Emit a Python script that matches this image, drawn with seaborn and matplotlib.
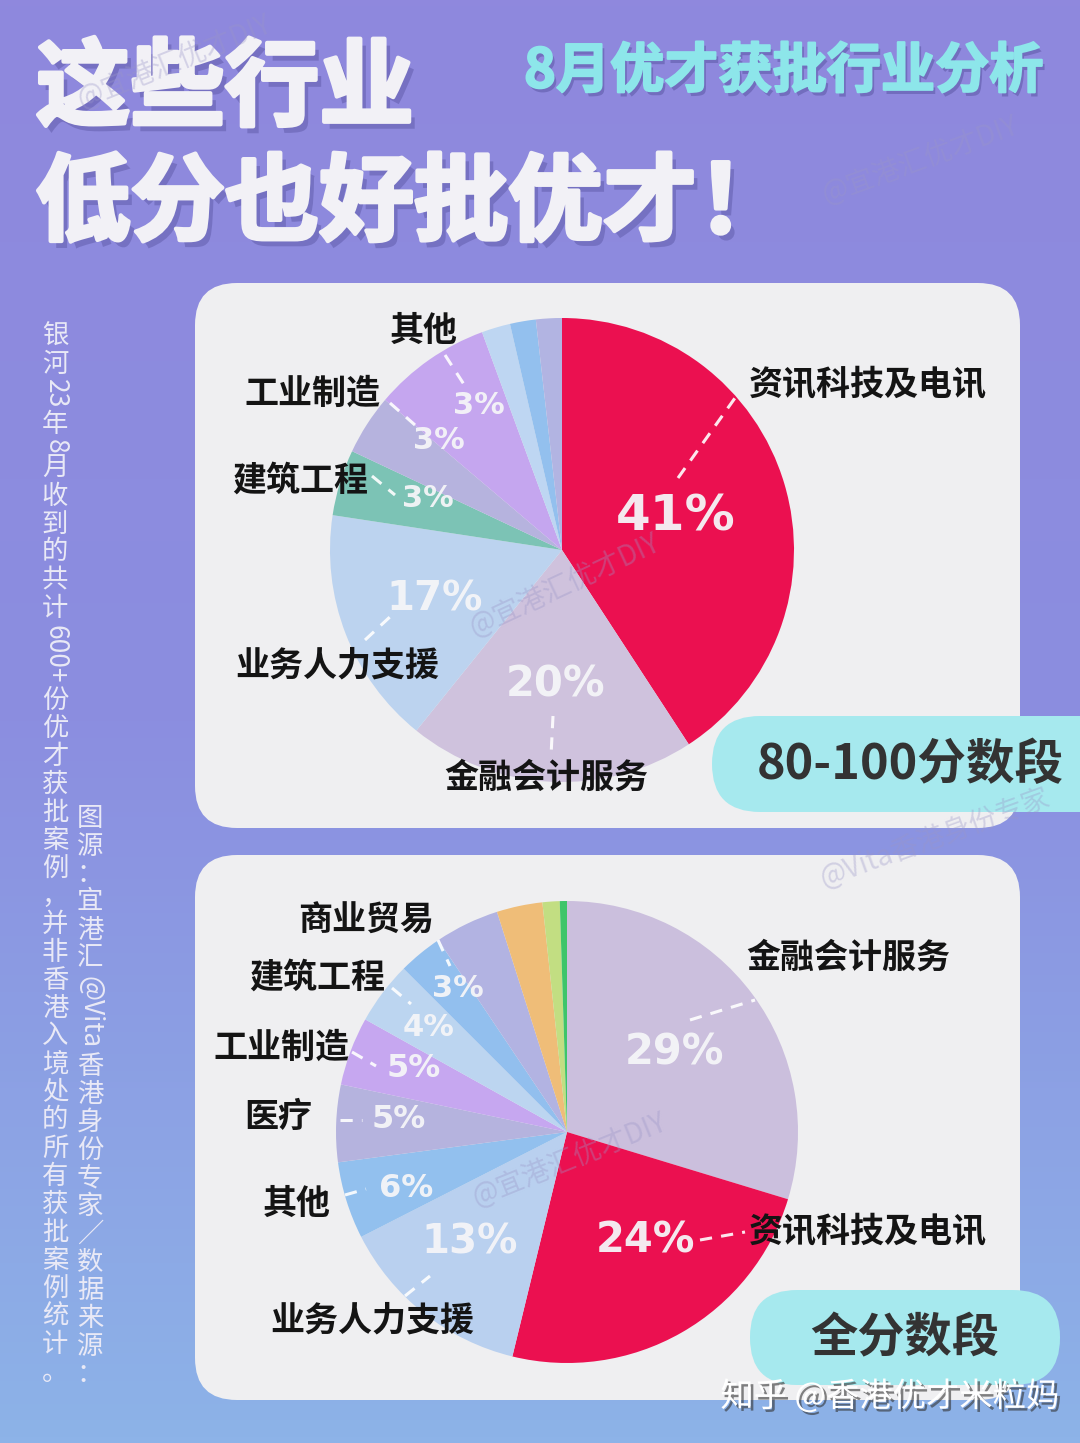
import numpy as np
import matplotlib
matplotlib.use("Agg")
import matplotlib.pyplot as plt
import seaborn as sns
import matplotlib.patheffects as pe
from matplotlib.patches import FancyBboxPatch
from matplotlib.colors import LinearSegmentedColormap

sns.set_theme(style="white")
plt.rcParams['font.family'] = ['Noto Sans CJK SC', 'DejaVu Sans']

# 80-100分数段
top_names = ["资讯科技及电讯", "金融会计服务", "业务人力支援", "建筑工程", "工业制造", "其他", "", "", ""]
top_values = [40.8, 20.0, 16.6, 4.6, 4.2, 8.2, 2.0, 1.8, 1.8]
top_pct = ["41%", "20%", "17%", "3%", "3%", "3%", "", "", ""]
top_colors = ["#eb1050", "#cfc2dd", "#bcd3ef", "#7cc3b5", "#b6b3de",
              "#c5a6ef", "#bed6f2", "#93c0ee", "#b2b4e2"]

# 全分数段
all_names = ["金融会计服务", "资讯科技及电讯", "业务人力支援", "其他", "医疗", "工业制造",
             "建筑工程", "商业贸易", "", "", "", ""]
all_values = [29.7, 24.1, 13.7, 5.4, 5.4, 4.8, 4.4, 3.1, 4.5, 3.2, 1.2, 0.5]
all_pct = ["29%", "24%", "13%", "6%", "5%", "5%", "4%", "3%", "", "", "", ""]
all_colors = ["#cbbfdd", "#eb1050", "#b9d0ef", "#92c0ee", "#b5b3de", "#c6a7f0",
              "#bcd5f0", "#92bfee", "#b2b3e2", "#efbd78", "#c2de82", "#3ec56a"]

# label layout (radius fraction, angle shift, font size) for percent texts
top_pct_r = [0.51, 0.58, 0.59, 0.62, 0.71, 0.72]
top_pct_da = [0, 0, 0, 4, 9, 5]
top_pct_fs = [36, 30, 29, 22, 22, 22]
all_pct_r = [0.58, 0.58, 0.64, 0.74, 0.73, 0.72, 0.75, 0.78]
all_pct_da = [0, -6, 3, -2, 2, 2, 0, 2]
all_pct_fs = [30, 30, 29, 23, 23, 23, 22, 22]

# category label positions (pixels) and leader lines
top_lab_xy = [(868, 385), (546, 777), (337, 665), (300, 480), (312, 393), (424, 330)]
top_lead = [((678, 478), (735, 398)), ((553, 716), (551, 756)), ((365, 640), (392, 615)),
            ((372, 476), (395, 495)), ((390, 403), (415, 425)), ((445, 355), (465, 386))]
all_lab_xy = [(848, 957), (868, 1232), (372, 1320), (297, 1203), (278, 1117),
              (281, 1047), (317, 977), (366, 920)]
all_lead = [((690, 1020), (755, 1000)), ((700, 1240), (745, 1232)), ((405, 1296), (430, 1276)),
            ((345, 1195), (366, 1189)), ((340, 1120), (362, 1120)), ((352, 1052), (376, 1066)),
            ((392, 988), (411, 1004)), ((438, 940), (450, 966))]

W, H = 1080, 1443
fig = plt.figure(figsize=(W / 100, H / 100), dpi=100)

bg = fig.add_axes([0, 0, 1, 1])
bg.set_xlim(0, W)
bg.set_ylim(H, 0)
bg.axis("off")
cmap = LinearSegmentedColormap.from_list("bgc", ["#8f88dd", "#8b8ee0", "#8db3e8"])
bg.imshow(np.linspace(0, 1, 256).reshape(-1, 1), cmap=cmap, aspect="auto",
          extent=[0, W, H, 0], zorder=0)

for y0, y1 in [(283, 828), (855, 1400)]:
    bg.add_patch(FancyBboxPatch((195, y0), 825, y1 - y0,
                                boxstyle="round,pad=0,rounding_size=42",
                                fc="#efeff1", ec="none", zorder=1))

title_c = "#f2f1f6"
title_fx = [pe.SimplePatchShadow(offset=(4, -5), shadow_rgbFace="#4a4590", alpha=0.35),
            pe.Stroke(linewidth=3, foreground=title_c), pe.Normal()]
bg.text(36, 90, "这些行业", fontsize=68, fontweight="bold", color=title_c,
        ha="left", va="center", path_effects=title_fx, zorder=3)
bg.text(36, 205, "低分也好批优才！", fontsize=68, fontweight="bold", color=title_c,
        ha="left", va="center", path_effects=title_fx, zorder=3)
bg.text(524, 72, "8月优才获批行业分析", fontsize=39, fontweight="bold", color="#8de6ea",
        ha="left", va="center", zorder=3,
        path_effects=[pe.SimplePatchShadow(offset=(2, -3), shadow_rgbFace="#4a4590", alpha=0.4),
                      pe.Stroke(linewidth=1.5, foreground="#8de6ea"), pe.Normal()])


def vtext(ax, x, y0, s, step=28, half=16, **kw):
    y = y0
    i = 0
    while i < len(s):
        if s[i].isascii():
            j = i
            while j < len(s) and s[j].isascii():
                j += 1
            run = s[i:j]
            h = half * len(run)
            ax.text(x, y + h / 2, run, rotation=270, ha="center", va="center", **kw)
            y += h
            i = j
        else:
            ax.text(x, y + step / 2, s[i], ha="center", va="center", **kw)
            y += step
            i += 1


vtext(bg, 55, 322, "银河23年8月收到的共计600+份优才获批案例，并非香港入境处的所有获批案例统计。",
      fontsize=19, color="#e9e9f6", zorder=3)
vtext(bg, 90, 804, "图源：宜港汇@Vita香港身份专家／数据来源：",
      fontsize=19, color="#e9e9f6", zorder=3)


def draw_pie(cx, cy, r, values, colors, pct, pct_r, pct_da, pct_fs):
    ax = fig.add_axes([(cx - r) / W, (H - cy - r) / H, 2 * r / W, 2 * r / H])
    wedges, _ = ax.pie(values, colors=colors, startangle=90, counterclock=False,
                       radius=1, wedgeprops=dict(linewidth=0))
    ax.set_xlim(-1, 1)
    ax.set_ylim(-1, 1)
    ax.axis("off")
    for k, lab in enumerate(pct):
        if not lab:
            continue
        w = wedges[k]
        phi = np.deg2rad((w.theta1 + w.theta2) / 2 - pct_da[k])
        ax.text(pct_r[k] * np.cos(phi), pct_r[k] * np.sin(phi), lab,
                family="DejaVu Sans", fontweight="bold", fontsize=pct_fs[k],
                color="#f5f5f8", alpha=0.95, ha="center", va="center")
    return ax


draw_pie(562, 550, 232, top_values, top_colors, top_pct, top_pct_r, top_pct_da, top_pct_fs)
draw_pie(567, 1132, 231, all_values, all_colors, all_pct, all_pct_r, all_pct_da, all_pct_fs)

top = fig.add_axes([0, 0, 1, 1])
top.set_xlim(0, W)
top.set_ylim(H, 0)
top.axis("off")
top.patch.set_alpha(0)

for names, xy, leads in [(top_names, top_lab_xy, top_lead), (all_names, all_lab_xy, all_lead)]:
    for k, (x, y) in enumerate(xy):
        top.text(x, y, names[k], fontsize=24.5, fontweight="bold", color="#141414",
                 ha="center", va="center", zorder=5)
    for (p0, p1) in leads:
        top.plot([p0[0], p1[0]], [p0[1], p1[1]], color="white", lw=2.2,
                 ls=(0, (4, 3)), alpha=0.9, zorder=4)

# badges
top.add_patch(FancyBboxPatch((712, 716), 420, 96, boxstyle="round,pad=0,rounding_size=48",
                             fc="#a6e9ee", ec="none", zorder=4))
top.text(910, 765, "80-100分数段", fontsize=35, fontweight="bold", color="#333333",
         ha="center", va="center", zorder=5)
top.add_patch(FancyBboxPatch((750, 1290), 310, 95, boxstyle="round,pad=0,rounding_size=47",
                             fc="#a6e9ee", ec="none", zorder=4))
top.text(905, 1338, "全分数段", fontsize=34, fontweight="bold", color="#333333",
         ha="center", va="center", zorder=5)

# watermarks
for (x, y, s, rot) in [(175, 62, "@宜港汇优才DIY", 22), (920, 160, "@宜港汇优才DIY", 20),
                       (565, 585, "@宜港汇优才DIY", 25), (935, 838, "@Vita香港身份专家", 20),
                       (570, 1160, "@宜港汇优才DIY", 22)]:
    top.text(x, y, s, fontsize=20, color="#9a96c8", alpha=0.35, rotation=rot,
             ha="center", va="center", zorder=6)

top.text(890, 1397, "知乎 @香港优才米粒妈", fontsize=24, color="white", ha="center",
         va="center", zorder=7,
         path_effects=[pe.SimplePatchShadow(offset=(2, -2), shadow_rgbFace="#333333", alpha=0.6),
                       pe.Normal()])

fig.savefig("out.png", dpi=100)
